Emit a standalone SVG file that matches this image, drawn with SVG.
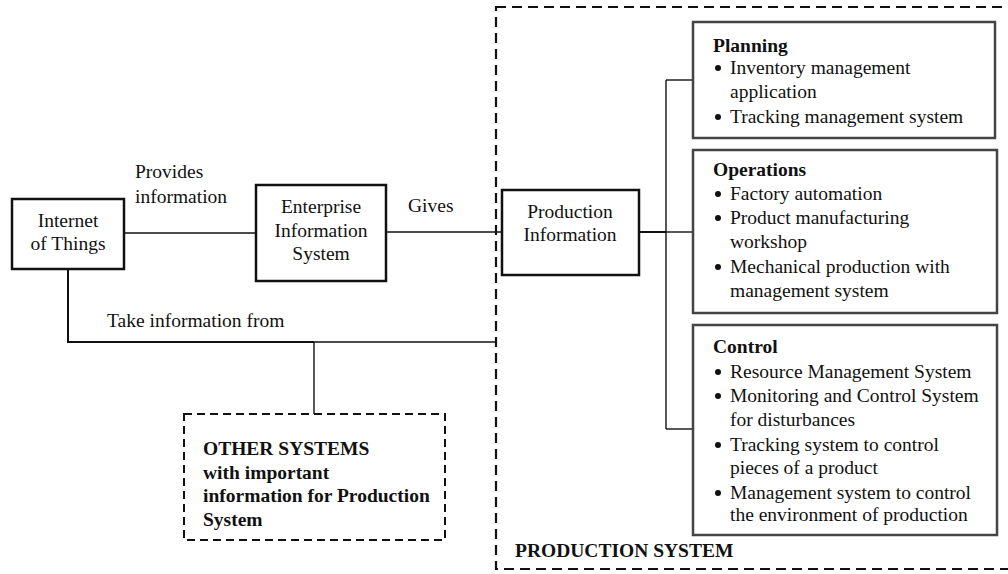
<svg xmlns="http://www.w3.org/2000/svg" width="1008" height="574" viewBox="0 0 1008 574">
<style>
text{font-family:"Liberation Serif","Times New Roman",serif;font-size:19.5px;fill:#111}
.b{font-weight:bold}
.c{text-anchor:middle}
.box{fill:#fff;stroke:#111;stroke-width:2.5}
.gbox{fill:#fff;stroke:#444;stroke-width:2.5}
.dash{fill:none;stroke:#111;stroke-width:2.2;stroke-dasharray:10 6}
.dash2{fill:none;stroke:#111;stroke-width:2;stroke-dasharray:8 5}
.ln{fill:none;stroke:#111;stroke-width:1.4}
.lnt{fill:none;stroke:#111;stroke-width:2}
</style>
<defs>
<circle id="bul" r="3" fill="#111"/>
</defs>
<rect width="1008" height="574" fill="#fff"/>
<g id="production-system">
<rect class="dash" x="496" y="7" width="520" height="562"/>
<text class="b" x="515" y="557">PRODUCTION SYSTEM</text>
</g>
<g id="connectors">
<line class="ln" x1="124" y1="233" x2="256" y2="233"/>
<line class="ln" x1="386" y1="232" x2="502" y2="232"/>
<line class="lnt" x1="639" y1="232" x2="666" y2="232"/>
<line class="ln" x1="666" y1="80" x2="666" y2="429"/>
<line class="ln" x1="666" y1="80" x2="693" y2="80"/>
<line class="ln" x1="666" y1="232" x2="693" y2="232"/>
<line class="ln" x1="666" y1="429" x2="693" y2="429"/>
<polyline class="lnt" points="68,269 68,342 314,342"/>
<line class="ln" x1="314" y1="342" x2="496" y2="342"/>
<line class="ln" x1="314" y1="342" x2="314" y2="414"/>
<text x="135" y="178">Provides</text>
<text x="135" y="203">information</text>
<text x="408" y="212">Gives</text>
<text x="107" y="327">Take information from</text>
</g>
<g id="iot">
<rect class="box" x="12" y="199" width="112" height="70"/>
<text class="c" x="68" y="227">Internet</text>
<text class="c" x="68" y="250">of Things</text>
</g>
<g id="eis">
<rect class="box" x="256" y="185" width="130" height="96"/>
<text class="c" x="321" y="213">Enterprise</text>
<text class="c" x="321" y="237">Information</text>
<text class="c" x="321" y="260">System</text>
</g>
<g id="production-information">
<rect class="box" x="502" y="190" width="137" height="85"/>
<text class="c" x="570" y="218">Production</text>
<text class="c" x="570" y="241">Information</text>
</g>
<g id="planning">
<rect class="gbox" x="693" y="22" width="302" height="116"/>
<text class="b" x="713" y="52">Planning</text>
<use href="#bul" x="718" y="68"/><text x="730" y="74">Inventory management</text>
<text x="730" y="98">application</text>
<use href="#bul" x="718" y="117"/><text x="730" y="123">Tracking management system</text>
</g>
<g id="operations">
<rect class="gbox" x="693" y="150" width="304" height="163"/>
<text class="b" x="713" y="176">Operations</text>
<use href="#bul" x="718" y="194"/><text x="730" y="200">Factory automation</text>
<use href="#bul" x="718" y="218"/><text x="730" y="224">Product manufacturing</text>
<text x="730" y="248">workshop</text>
<use href="#bul" x="718" y="267"/><text x="730" y="273">Mechanical production with</text>
<text x="730" y="297">management system</text>
</g>
<g id="control">
<rect class="gbox" x="693" y="325" width="304" height="210"/>
<text class="b" x="713" y="353">Control</text>
<use href="#bul" x="718" y="372"/><text x="730" y="378">Resource Management System</text>
<use href="#bul" x="718" y="396"/><text x="730" y="402">Monitoring and Control System</text>
<text x="730" y="426">for disturbances</text>
<use href="#bul" x="718" y="445"/><text x="730" y="451">Tracking system to control</text>
<text x="730" y="474">pieces of a product</text>
<use href="#bul" x="718" y="493"/><text x="730" y="499">Management system to control</text>
<text x="730" y="521">the environment of production</text>
</g>
<g id="other-systems">
<rect class="dash2" x="184" y="414" width="261" height="126"/>
<text class="b" x="203" y="455">OTHER SYSTEMS</text>
<text class="b" x="203" y="479">with important</text>
<text class="b" x="203" y="502">information for Production</text>
<text class="b" x="203" y="526">System</text>
</g>
</svg>
